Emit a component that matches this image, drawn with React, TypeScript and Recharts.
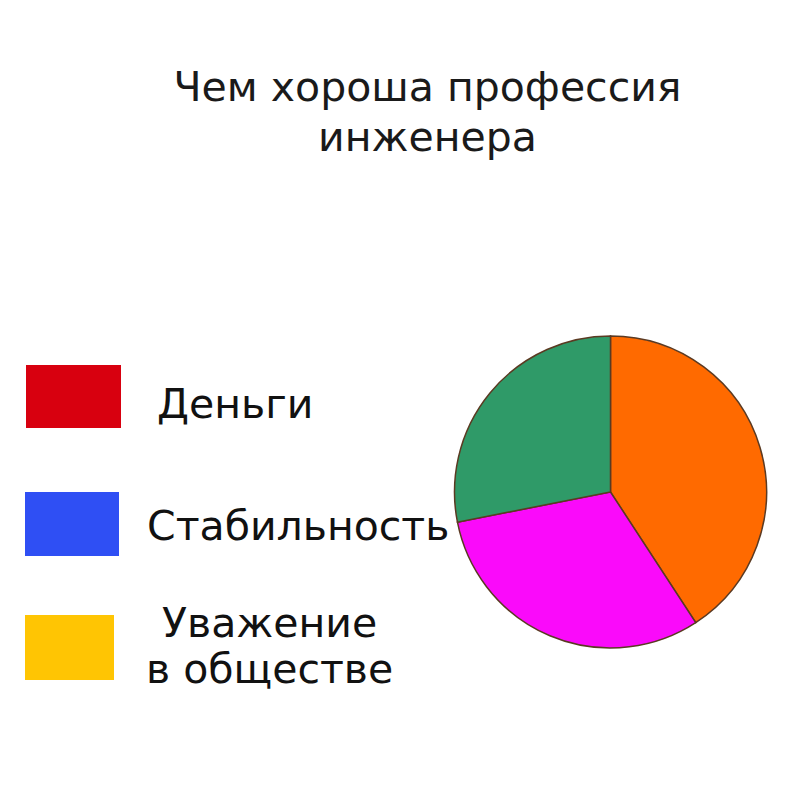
import { Cell, Pie, PieChart } from 'recharts';

// Title lines
const titleLines = ['Чем хороша профессия', 'инженера'];

// Legend (deliberately unrelated to the pie colours)
const legendLabels = [['Деньги'], ['Стабильность'], ['Уважение', 'в обществе']];
const legendColors = ['#d8000f', '#2f4ff4', '#ffc503'];

// Pie slices, clockwise from 12 o'clock
const sliceKeys = ['orange', 'magenta', 'green'];
const sliceValues = [40.8, 31.1, 28.1];
const sliceColors = ['#ff6a00', '#fa0afa', '#2f9a68'];

const pieData = sliceKeys.map((key, i) => ({ name: key, value: sliceValues[i] }));

const FONT = '"DejaVu Sans", Verdana, sans-serif';

const legendLayout = [
  { box: [26, 365, 95, 63], text: [157], baselines: [418] },
  { box: [25, 492, 94, 64], text: [147], baselines: [540] },
  { box: [25, 615, 89, 65], text: [162, 146], baselines: [637, 683] },
];

export default function App() {
  return (
    <div
      style={{
        position: 'absolute',
        left: 0,
        top: 0,
        width: 811,
        height: 787,
        background: '#ffffff',
        overflow: 'hidden',
      }}
    >
      <PieChart width={811} height={787} margin={{ top: 0, right: 0, bottom: 0, left: 0 }}>
        <Pie
          data={pieData}
          dataKey="value"
          nameKey="name"
          cx={610.5}
          cy={492}
          outerRadius={156}
          startAngle={90}
          endAngle={-270}
          stroke="#5b3a22"
          strokeWidth={1.5}
          isAnimationActive={false}
        >
          {pieData.map((entry, i) => (
            <Cell key={entry.name} fill={sliceColors[i]} />
          ))}
        </Pie>
      </PieChart>
      <svg
        width={811}
        height={787}
        style={{ position: 'absolute', left: 0, top: 0, pointerEvents: 'none' }}
      >
        {titleLines.map((line, i) => (
          <text
            key={line}
            x={427.5}
            y={101 + i * 50}
            textAnchor="middle"
            fontFamily={FONT}
            fontSize={41}
            fill="#1a1a1a"
          >
            {line}
          </text>
        ))}
        {legendLabels.map((lines, i) => {
          const l = legendLayout[i];
          const [x, y, w, h] = l.box;
          return (
            <g key={lines.join(' ')}>
              <rect x={x} y={y} width={w} height={h} fill={legendColors[i]} />
              {lines.map((t, j) => (
                <text
                  key={t}
                  x={l.text[j]}
                  y={l.baselines[j]}
                  fontFamily={FONT}
                  fontSize={41}
                  fill="#111111"
                >
                  {t}
                </text>
              ))}
            </g>
          );
        })}
      </svg>
    </div>
  );
}
